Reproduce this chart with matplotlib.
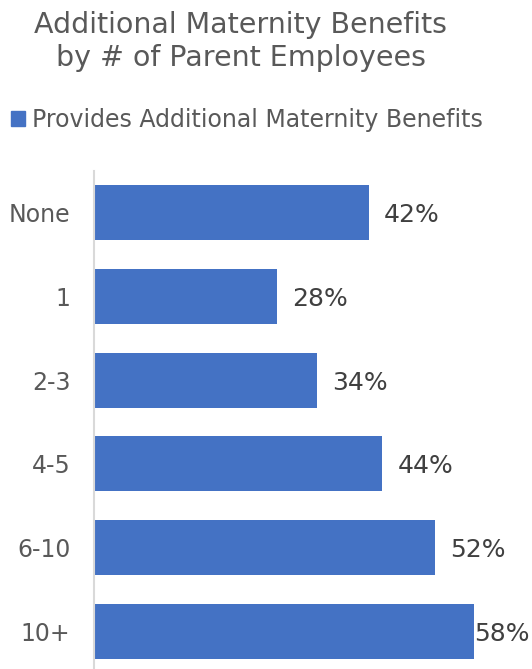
import matplotlib
matplotlib.use('Agg')
import matplotlib.pyplot as plt
from matplotlib.patches import Patch

# survey results: share of employers offering extra maternity benefits
categories = ['None', '1', '2-3', '4-5', '6-10', '10+']
values = [42, 28, 34, 44, 52, 58]
series_name = 'Provides Additional Maternity Benefits'
title = 'Additional Maternity Benefits\nby # of Parent Employees'

BAR = '#4472C4'
TXT = '#595959'
W, H = 532, 669

plt.rcParams['font.family'] = ['DejaVu Sans']

fig = plt.figure(figsize=(W / 100, H / 100), dpi=100)
ax = fig.add_axes([94 / W, (H - 673) / H, (487 - 94) / W, (673 - 171) / H])

y = list(range(len(categories)))
ax.barh(y, values, height=0.66, color=BAR)
ax.set_xlim(0, 60)
ax.set_ylim(len(categories) - 0.5, -0.5)

for yi, v in zip(y, values):
    # last bar's label sits flush against the bar end
    pad = 0.0 if v == max(values) else 2.3
    ax.text(v + pad, yi + 0.03, f'{v}%', va='center', ha='left', fontsize=18,
            color='#404040')

ax.set_yticks(y)
ax.set_yticklabels(categories, fontsize=17, color=TXT)
ax.tick_params(axis='y', length=0, pad=17)
ax.set_xticks([])
for side in ('top', 'right', 'bottom'):
    ax.spines[side].set_visible(False)
ax.spines['left'].set_color('#d9d9d9')
ax.spines['left'].set_linewidth(1.5)

fig.text(241 / W, 1 - 11 / H, title, ha='center', va='top', fontsize=20.5,
         color=TXT, linespacing=1.25)

fig.legend(handles=[Patch(color=BAR, label=series_name)], loc='center left',
           bbox_to_anchor=(11 / W, 1 - 120 / H), frameon=False, fontsize=17,
           handlelength=0.6, handleheight=0.6, handletextpad=0.3,
           labelcolor=TXT, borderaxespad=0, borderpad=0)

fig.savefig('out.png', dpi=100)
